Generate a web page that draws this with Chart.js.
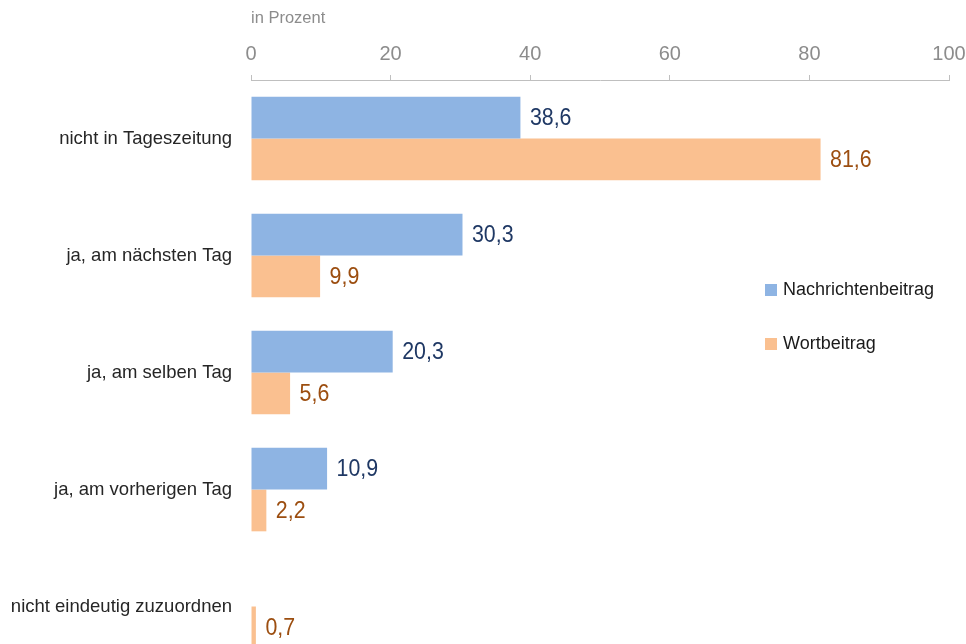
<!DOCTYPE html>
<html>
<head>
<meta charset="utf-8">
<script src="https://cdn.jsdelivr.net/npm/chart.js@4.4.1/dist/chart.umd.min.js"></script>
<style>
  html, body { margin: 0; padding: 0; background: #ffffff; overflow: hidden; }
  #wrap { width: 966px; height: 665px; }
</style>
</head>
<body>
<div id="wrap"><canvas id="c" width="966" height="665" style="width:966px;height:665px"></canvas></div>
<script>
const categories = [
  'nicht in Tageszeitung',
  'ja, am nächsten Tag',
  'ja, am selben Tag',
  'ja, am vorherigen Tag',
  'nicht eindeutig zuzuordnen'
];
const seriesNames = ['Nachrichtenbeitrag', 'Wortbeitrag'];
const nachrichtenbeitrag = [38.6, 30.3, 20.3, 10.9, null];
const wortbeitrag = [81.6, 9.9, 5.6, 2.2, 0.7];
const xTicks = [0, 20, 40, 60, 80, 100];
const axisTitle = 'in Prozent';

const barColors = ['#8EB4E3', '#FAC090'];
const labelColors = ['#1F3864', '#9C4E10'];

const REGULAR = '"Liberation Sans", Arial, sans-serif';

const valueLabels = {
  id: 'valueLabels',
  afterDatasetsDraw(chart) {
    const ctx = chart.ctx;
    chart.data.datasets.forEach((ds, i) => {
      const meta = chart.getDatasetMeta(i);
      meta.data.forEach((el, j) => {
        const v = ds.data[j];
        if (v === null || v === undefined) return;
        ctx.save();
        ctx.font = '24px ' + REGULAR;
        ctx.textBaseline = 'middle';
        ctx.textAlign = 'left';
        ctx.fillStyle = labelColors[i];
        ctx.translate(el.x + 9.5, el.y + 1);
        ctx.scale(0.89, 1);
        ctx.fillText(v.toFixed(1).replace('.', ','), 0, 0);
        ctx.restore();
      });
    });
  }
};

const insideLegend = {
  id: 'insideLegend',
  afterDraw(chart) {
    const ctx = chart.ctx;
    ctx.save();
    ctx.font = '18px ' + REGULAR;
    ctx.textBaseline = 'middle';
    ctx.textAlign = 'left';
    const x0 = 765, y0 = 290, gap = 54;
    chart.data.datasets.forEach((ds, i) => {
      const y = y0 + i * gap;
      ctx.fillStyle = ds.backgroundColor;
      ctx.fillRect(x0, y - 6, 12, 12);
      ctx.fillStyle = '#1A1A1A';
      ctx.fillText(ds.label, x0 + 18, y);
    });
    ctx.restore();
  }
};

new Chart(document.getElementById('c'), {
  type: 'bar',
  data: {
    labels: categories,
    datasets: [
      { label: seriesNames[0], data: nachrichtenbeitrag, backgroundColor: barColors[0],
        barPercentage: 1.0, categoryPercentage: 0.715 },
      { label: seriesNames[1], data: wortbeitrag, backgroundColor: barColors[1],
        barPercentage: 1.0, categoryPercentage: 0.715 }
    ]
  },
  options: {
    indexAxis: 'y',
    responsive: false,
    maintainAspectRatio: false,
    devicePixelRatio: 1,
    animation: false,
    layout: { padding: { left: 0, right: 17, top: 0, bottom: 0 } },
    plugins: {
      legend: { display: false },
      tooltip: { enabled: false },
      title: { display: false }
    },
    scales: {
      x: {
        position: 'top',
        min: 0,
        max: 100,
        afterBuildTicks(scale) { scale.ticks = xTicks.map(v => ({ value: v })); },
        afterFit(scale) {
          scale.height = 80;
          scale.paddingLeft = 0;
          scale.paddingRight = 0;
        },
        grid: { drawOnChartArea: false, drawTicks: true, tickLength: 5, color: '#BFBFBF' },
        border: { display: true, color: '#BFBFBF', width: 1 },
        ticks: {
          color: '#8C8C8C',
          font: { family: REGULAR, size: 20 },
          padding: 9,
          maxRotation: 0
        },
        title: {
          display: true,
          text: axisTitle,
          align: 'start',
          color: '#8C8C8C',
          font: { family: REGULAR, size: 16.5 },
          padding: { top: 9, bottom: 0 }
        }
      },
      y: {
        afterFit(scale) {
          scale.width = 251;
          scale.paddingTop = 0;
          scale.paddingBottom = 0;
        },
        grid: { display: false, drawTicks: false },
        border: { display: false },
        ticks: {
          color: '#262626',
          font: { family: REGULAR, size: 18.5 },
          padding: 19,
          autoSkip: false
        }
      }
    }
  },
  plugins: [valueLabels, insideLegend]
});
</script>
</body>
</html>
